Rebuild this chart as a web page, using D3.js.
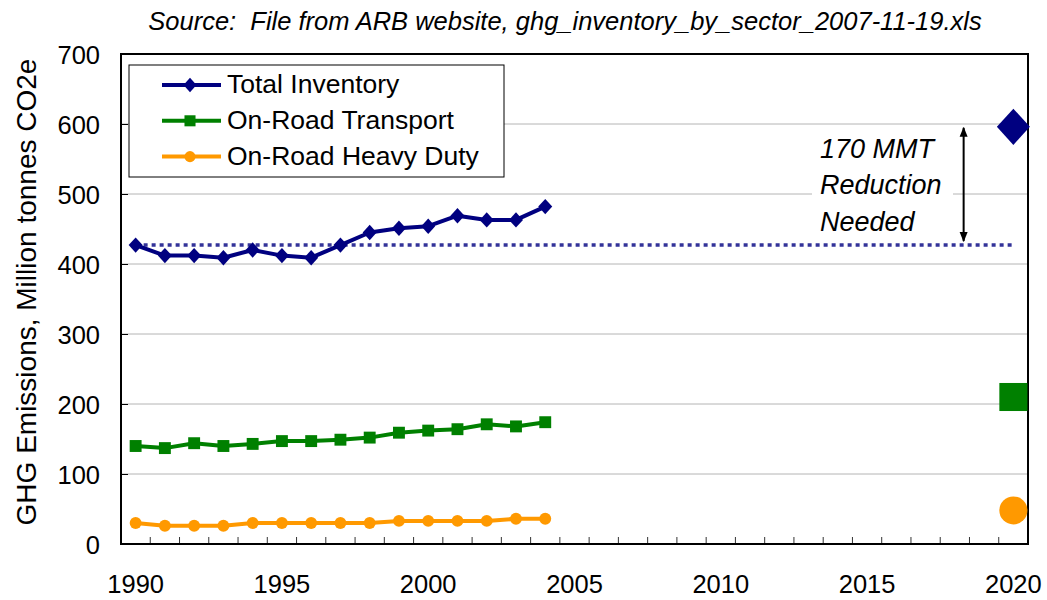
<!DOCTYPE html>
<html>
<head>
<meta charset="utf-8">
<script src="https://cdn.jsdelivr.net/npm/d3@7"></script>
<style>
  body { margin: 0; background: #fff; }
  text { font-family: Arial, "Liberation Sans", sans-serif; }
</style>
</head>
<body>
<div id="my_dataviz"></div>
<script>
'use strict';

// years shown on the category axis
var years = d3.range(1990, 2021);
var histYears = d3.range(1990, 2005);
var tickLabels = [1990, 1995, 2000, 2005, 2010, 2015, 2020];
var yTicks = [0, 100, 200, 300, 400, 500, 600, 700];

// emissions, million tonnes CO2e
var totalInventory = [427, 412, 412, 409, 420, 412, 409, 427, 445, 451, 454, 469, 463, 463, 482];
var onRoadTransport = [140, 137, 144, 140, 143, 147, 147, 149, 152, 159, 162, 164, 171, 168, 174];
var onRoadHeavyDuty = [30, 26, 26, 26, 30, 30, 30, 30, 30, 33, 33, 33, 33, 36, 36];

// 2020 projections and 1990 target level
var target2020 = { total: 596, transport: 210, heavy: 48 };
var level1990 = 427;

var seriesNames = ["Total Inventory", "On-Road Transport", "On-Road Heavy Duty"];

window.onload = function() {
    var W = 1047, H = 600;
    var margin = {top: 54, right: 19, bottom: 56, left: 121},
        width = W - margin.left - margin.right,
        height = H - margin.top - margin.bottom;

    var svg = d3.select("#my_dataviz")
        .append("svg")
            .attr("width", W)
            .attr("height", H);

    var g = svg.append("g")
        .attr("transform", "translate(" + margin.left + "," + margin.top + ")");

    // scales
    var x = d3.scaleBand()
        .domain(years)
        .range([0, width])
        .padding(0);
    var cx = function(yr) { return x(yr) + x.bandwidth() / 2; };

    var y = d3.scaleLinear()
        .domain([0, 700])
        .range([height, 0]);

    // gridlines
    g.append("g")
        .selectAll("line")
        .data(yTicks.filter(function(d) { return d > 0 && d < 700; }))
        .enter()
        .append("line")
            .attr("x1", 0)
            .attr("x2", width)
            .attr("y1", function(d) { return y(d); })
            .attr("y2", function(d) { return y(d); })
            .style("stroke", "#b4b4b4")
            .style("stroke-width", 1);

    // y axis (inside ticks)
    var yAxis = g.append("g")
        .call(d3.axisLeft(y).tickValues(yTicks).tickSize(-7).tickPadding(21));
    yAxis.select(".domain").remove();
    yAxis.selectAll("line").style("stroke", "#000");
    yAxis.selectAll("text")
        .style("font-size", "25.5px")
        .attr("dy", "0.36em");

    // x axis: ticks at category boundaries, labels at centres
    var bounds = years.slice(1).map(function(d) { return x(d); });
    g.append("g")
        .selectAll("line")
        .data(bounds)
        .enter()
        .append("line")
            .attr("x1", function(d) { return d; })
            .attr("x2", function(d) { return d; })
            .attr("y1", height)
            .attr("y2", height - 7)
            .style("stroke", "#333")
            .style("stroke-width", 1);

    g.append("g")
        .selectAll("text")
        .data(tickLabels)
        .enter()
        .append("text")
            .attr("x", function(d) { return cx(d); })
            .attr("y", height + 49)
            .style("text-anchor", "middle")
            .style("font-size", "25.5px")
            .text(function(d) { return d; });

    // plot frame
    g.append("rect")
        .attr("x", 0)
        .attr("y", 0)
        .attr("width", width)
        .attr("height", height)
        .style("fill", "none")
        .style("stroke", "#000")
        .style("stroke-width", 2);

    // y axis label
    svg.append("text")
        .attr("transform", "translate(36," + (margin.top + height / 2 - 7) + ") rotate(-90)")
        .style("text-anchor", "middle")
        .style("font-size", "28px")
        .text("GHG Emissions, Million tonnes CO2e");

    // title
    svg.append("text")
        .attr("x", 565)
        .attr("y", 30)
        .style("text-anchor", "middle")
        .style("font-size", "25.5px")
        .style("font-style", "italic")
        .style("white-space", "pre")
        .text("Source:  File from ARB website, ghg_inventory_by_sector_2007-11-19.xls");

    // 1990 level dotted line
    g.append("line")
        .attr("x1", cx(1990))
        .attr("x2", cx(2020))
        .attr("y1", y(level1990))
        .attr("y2", y(level1990))
        .style("stroke", "#333399")
        .style("stroke-width", 3.5)
        .style("stroke-dasharray", "4,4");

    // annotation box + text
    g.append("rect")
        .attr("x", 812 - margin.left)
        .attr("y", y(target2020.total) + 8)
        .attr("width", 141)
        .attr("height", y(level1990) - y(target2020.total) - 16)
        .style("fill", "#fff");

    var note = ["170 MMT", "Reduction", "Needed"];
    g.append("g")
        .selectAll("text")
        .data(note)
        .enter()
        .append("text")
            .attr("x", 820 - margin.left)
            .attr("y", function(d, i) { return y(target2020.total) + 31 + i * 36.5; })
            .style("font-size", "27px")
            .style("font-style", "italic")
            .text(function(d) { return d; });

    // double-headed arrow
    var defs = svg.append("defs");
    defs.append("marker")
        .attr("id", "arrow")
        .attr("viewBox", "0 0 10 10")
        .attr("refX", 9)
        .attr("refY", 5)
        .attr("markerWidth", 10)
        .attr("markerHeight", 10)
        .attr("markerUnits", "userSpaceOnUse")
        .attr("orient", "auto-start-reverse")
        .append("path")
            .attr("d", "M0,1 L10,5 L0,9 Z")
            .style("fill", "#000");

    var ax = x(2018) + x.bandwidth() * 0.8;
    g.append("line")
        .attr("x1", ax)
        .attr("x2", ax)
        .attr("y1", y(target2020.total) + 1)
        .attr("y2", y(level1990) - 4)
        .style("stroke", "#000")
        .style("stroke-width", 2)
        .attr("marker-start", "url(#arrow)")
        .attr("marker-end", "url(#arrow)");

    // series
    var series = [
        {name: seriesNames[0], values: totalInventory, color: "#000080", shape: "diamond", target: target2020.total},
        {name: seriesNames[1], values: onRoadTransport, color: "#008000", shape: "square", target: target2020.transport},
        {name: seriesNames[2], values: onRoadHeavyDuty, color: "#FF9900", shape: "circle", target: target2020.heavy}
    ];

    function drawMarker(sel, shape, s, color) {
        if (shape === "diamond") {
            sel.append("path")
                .attr("d", "M0," + (-s * 1.1) + " L" + s + ",0 L0," + (s * 1.1) + " L" + (-s) + ",0 Z")
                .style("fill", color);
        } else if (shape === "square") {
            sel.append("rect")
                .attr("x", -s * 0.85)
                .attr("y", -s * 0.85)
                .attr("width", s * 1.7)
                .attr("height", s * 1.7)
                .style("fill", color);
        } else {
            sel.append("circle")
                .attr("r", s * 0.85)
                .style("fill", color);
        }
    }

    var line = d3.line()
        .x(function(d, i) { return cx(histYears[i]); })
        .y(function(d) { return y(d); });

    series.forEach(function(s) {
        g.append("path")
            .datum(s.values)
            .attr("d", line)
            .style("fill", "none")
            .style("stroke", s.color)
            .style("stroke-width", 4)
            .style("stroke-linejoin", "round");

        g.append("g")
            .selectAll("g")
            .data(s.values)
            .enter()
            .append("g")
                .attr("transform", function(d, i) { return "translate(" + cx(histYears[i]) + "," + y(d) + ")"; })
                .each(function() { drawMarker(d3.select(this), s.shape, 7, s.color); });

        // big 2020 marker
        var big = g.append("g")
            .attr("transform", "translate(" + cx(2020) + "," + y(s.target) + ")");
        drawMarker(big, s.shape, 16.5, s.color);
    });

    // legend
    var legend = svg.append("g");
    legend.append("rect")
        .attr("x", 129)
        .attr("y", 65)
        .attr("width", 375)
        .attr("height", 112)
        .style("fill", "#fff")
        .style("stroke", "#000")
        .style("stroke-width", 1);

    series.forEach(function(s, i) {
        var ly = 85 + i * 35.8;
        legend.append("line")
            .attr("x1", 162)
            .attr("x2", 221)
            .attr("y1", ly)
            .attr("y2", ly)
            .style("stroke", s.color)
            .style("stroke-width", 4);
        var m = legend.append("g")
            .attr("transform", "translate(190," + ly + ")");
        drawMarker(m, s.shape, 6.5, s.color);
        legend.append("text")
            .attr("x", 227)
            .attr("y", ly + 8)
            .style("font-size", "26.5px")
            .text(s.name);
    });
};
</script>
</body>
</html>
